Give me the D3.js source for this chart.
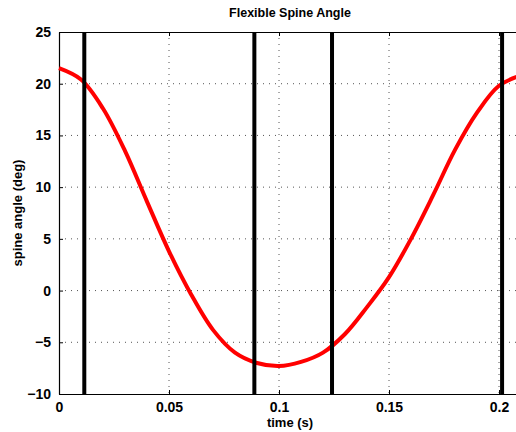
<!DOCTYPE html>
<html>
<head>
<meta charset="utf-8">
<script src="https://cdn.jsdelivr.net/npm/d3@7"></script>
<style>
  body { margin: 0; background: #fff; }
  svg { display: block; font-family: "Liberation Sans", Arial, sans-serif; font-weight: bold; }
  .grid line { stroke: #555; stroke-width: 1; stroke-dasharray: 1,5; }
</style>
</head>
<body>
<svg width="516" height="432"></svg>
<script>
// spine angle every 10 ms
var timeVals  = [0, 0.01, 0.02, 0.03, 0.04, 0.05, 0.06, 0.07, 0.08, 0.09, 0.10,
                 0.11, 0.12, 0.13, 0.14, 0.15, 0.16, 0.17, 0.18, 0.19, 0.20, 0.21];
var angleVals = [21.5, 20.4, 17.6, 13.5, 8.6, 3.8, -0.35, -3.8, -6.0, -7.0, -7.3,
                 -6.9, -6.0, -4.2, -1.6, 1.3, 5.0, 9.2, 13.6, 17.2, 19.8, 20.8];

// event markers (vertical black lines)
var markerTimes = [0.0115, 0.0888, 0.1241, 0.2014];

var xTicks = [0, 0.05, 0.1, 0.15, 0.2];
var yTicks = [-10, -5, 0, 5, 10, 15, 20, 25];

var svg = d3.select("svg");
// note: "top" is taken by window.top, so use plot* names
var plotL = 59, plotT = 32, plotR = 521, plotB = 394;

var x = d3.scaleLinear().domain([0, 0.21]).range([plotL, plotR]);
var y = d3.scaleLinear().domain([-10, 25]).range([plotB, plotT]);

// dotted grid
var grid = svg.append("g").attr("class", "grid");
grid.selectAll(".gx")
    .data(xTicks.filter(function(d) { return d > 0; }))
    .enter().append("line")
    .attr("x1", function(d) { return x(d); })
    .attr("x2", function(d) { return x(d); })
    .attr("y1", plotT).attr("y2", plotB);
grid.selectAll(".gy")
    .data(yTicks.filter(function(d) { return d > -10 && d < 25; }))
    .enter().append("line")
    .attr("x1", plotL).attr("x2", plotR)
    .attr("y1", function(d) { return y(d); })
    .attr("y2", function(d) { return y(d); });

// axes (ticks point inward like matlab)
var xAxis = svg.append("g")
    .attr("transform", "translate(0," + plotB + ")")
    .call(d3.axisBottom(x).tickValues(xTicks).tickSizeInner(-4).tickSizeOuter(0)
        .tickPadding(8).tickFormat(d3.format("")));
var xTop = svg.append("g")
    .attr("transform", "translate(0," + plotT + ")")
    .call(d3.axisTop(x).tickValues(xTicks).tickSizeInner(-4).tickSizeOuter(0).tickFormat(""));
var yAxis = svg.append("g")
    .attr("transform", "translate(" + plotL + ",0)")
    .call(d3.axisLeft(y).tickValues(yTicks).tickSizeInner(-4).tickSizeOuter(0).tickPadding(8));

[xAxis, xTop, yAxis].forEach(function(a) {
    a.selectAll(".domain").attr("stroke", "#000").attr("stroke-width", 1.2);
    a.selectAll(".tick line").attr("stroke", "#000");
    a.selectAll("text").attr("font-size", 14).attr("font-weight", "bold")
        .attr("font-family", "Liberation Sans, Arial, sans-serif").attr("fill", "#000");
});

// angle curve
var line = d3.line()
    .x(function(d, i) { return x(timeVals[i]); })
    .y(function(d) { return y(d); })
    .curve(d3.curveCatmullRom.alpha(0.5));

svg.append("path")
    .datum(angleVals)
    .attr("fill", "none")
    .attr("stroke", "#ff0000")
    .attr("stroke-width", 4)
    .attr("d", line);

// markers
svg.append("g").selectAll("line")
    .data(markerTimes)
    .enter().append("line")
    .attr("x1", function(d) { return x(d); })
    .attr("x2", function(d) { return x(d); })
    .attr("y1", plotT).attr("y2", plotB)
    .attr("stroke", "#000")
    .attr("stroke-width", 4);

// labels
svg.append("text")
    .attr("x", (plotL + plotR) / 2).attr("y", 17)
    .attr("text-anchor", "middle")
    .attr("font-size", 12.5)
    .text("Flexible Spine Angle");

svg.append("text")
    .attr("x", (plotL + plotR) / 2).attr("y", 427)
    .attr("text-anchor", "middle")
    .attr("font-size", 13)
    .text("time (s)");

svg.append("text")
    .attr("transform", "translate(22," + ((plotT + plotB) / 2) + ") rotate(-90)")
    .attr("text-anchor", "middle")
    .attr("font-size", 13)
    .text("spine angle (deg)");
</script>
</body>
</html>
